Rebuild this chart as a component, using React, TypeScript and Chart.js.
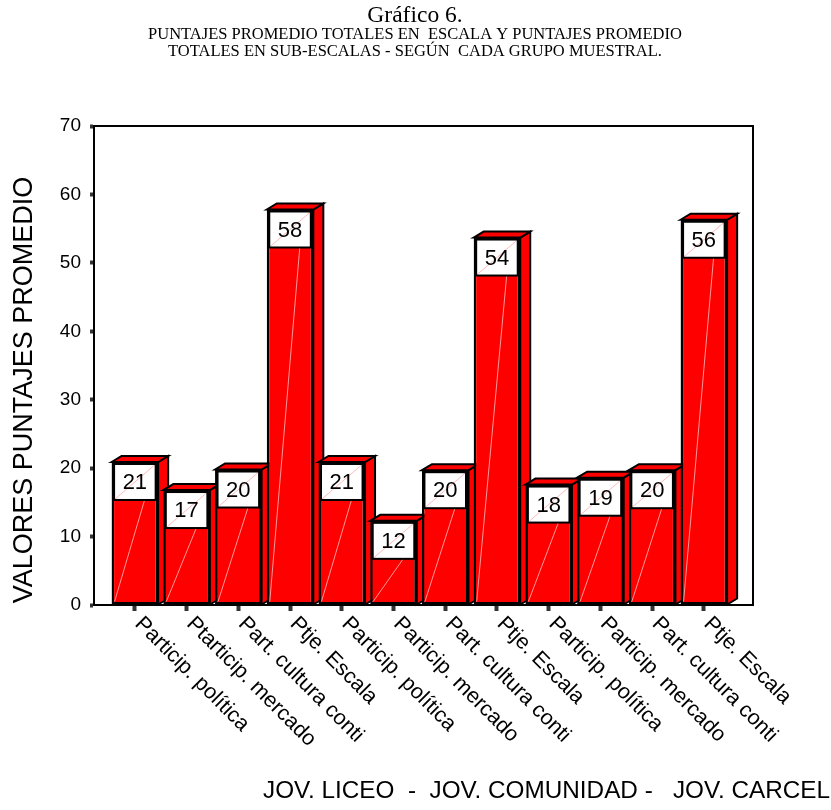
import React, { useEffect, useRef } from 'react';
import { Chart, registerables } from 'chart.js';

Chart.register(...registerables);

// ---------- data ----------
const categories = [
  'Particip. política',
  'Ptarticip. mercado',
  'Part. cultura conti',
  'Ptje. Escala',
  'Particip. política',
  'Particip. mercado',
  'Part. cultura conti',
  'Ptje. Escala',
  'Particip. política',
  'Particip. mercado',
  'Part. cultura conti',
  'Ptje. Escala',
];
const values = [20.9, 16.8, 19.8, 57.8, 20.9, 12.3, 19.7, 53.7, 17.6, 18.6, 19.7, 56.3];
const yTickValues = [0, 10, 20, 30, 40, 50, 60, 70];
const titleText = 'Gráfico 6.';
const subtitleLines = [
  'PUNTAJES PROMEDIO TOTALES EN  ESCALA Y PUNTAJES PROMEDIO',
  'TOTALES EN SUB-ESCALAS - SEGÚN  CADA GRUPO MUESTRAL.',
];
const yAxisTitle = 'VALORES PUNTAJES PROMEDIO';
const xAxisTitle = 'JOV. LICEO  -  JOV. COMUNIDAD -   JOV. CARCEL';

// ---------- styles ----------
const RED = '#ff0000';
const SANS = 'Liberation Sans, Arial, sans-serif';
const SERIF = 'Liberation Serif, Times New Roman, serif';
const DX = 10;
const DY = 6;

const bars3d = {
  id: 'bars3d',
  beforeDatasetsDraw(chart: any) {
    const ctx = chart.ctx;
    const meta = chart.getDatasetMeta(0);
    ctx.save();
    ctx.lineJoin = 'miter';
    meta.data.forEach((el: any) => {
      const { x, y, base, width } = el.getProps(['x', 'y', 'base', 'width'], true);
      const l = x - width / 2;
      const r = x + width / 2;
      // side face
      ctx.beginPath();
      ctx.moveTo(r, y);
      ctx.lineTo(r + DX, y - DY);
      ctx.lineTo(r + DX, base - DY);
      ctx.lineTo(r, base);
      ctx.closePath();
      ctx.fillStyle = RED;
      ctx.fill();
      ctx.lineWidth = 2;
      ctx.strokeStyle = '#000';
      ctx.stroke();
      // top face
      ctx.beginPath();
      ctx.moveTo(l, y);
      ctx.lineTo(l + DX, y - DY);
      ctx.lineTo(r + DX, y - DY);
      ctx.lineTo(r, y);
      ctx.closePath();
      ctx.fillStyle = RED;
      ctx.fill();
      ctx.stroke();
    });
    ctx.restore();
  },
  afterDatasetsDraw(chart: any) {
    const ctx = chart.ctx;
    const meta = chart.getDatasetMeta(0);
    const area = chart.chartArea;
    ctx.save();
    meta.data.forEach((el: any, i: number) => {
      const { x, y, base, width } = el.getProps(['x', 'y', 'base', 'width'], true);
      const l = x - width / 2;
      const bx = l + 2.5;
      const bw = width - 5;
      const by = y + 2;
      const bh = 36;
      // faint highlight line on front face
      ctx.beginPath();
      ctx.moveTo(l + 3, base - 3);
      ctx.lineTo(l + 33, by + bh);
      ctx.strokeStyle = 'rgba(255,190,190,0.8)';
      ctx.lineWidth = 1;
      ctx.stroke();
      // value box
      ctx.fillStyle = '#fff';
      ctx.fillRect(bx, by, bw, bh);
      ctx.beginPath();
      ctx.moveTo(bx + 1, by + bh - 1);
      ctx.lineTo(bx + bw - 1, by + 1);
      ctx.strokeStyle = 'rgba(255,140,140,0.6)';
      ctx.stroke();
      ctx.strokeStyle = '#000';
      ctx.lineWidth = 2;
      ctx.strokeRect(bx, by, bw, bh);
      ctx.fillStyle = '#000';
      ctx.font = `22px ${SANS}`;
      ctx.textAlign = 'center';
      ctx.textBaseline = 'middle';
      ctx.fillText(String(Math.round(values[i])), bx + bw / 2, by + bh / 2 + 1);
    });
    // frame top & right
    ctx.beginPath();
    ctx.moveTo(area.left, area.top);
    ctx.lineTo(area.right, area.top);
    ctx.lineTo(area.right, area.bottom);
    ctx.strokeStyle = '#000';
    ctx.lineWidth = 2;
    ctx.stroke();
    ctx.restore();
  },
  afterDraw(chart: any) {
    const ctx = chart.ctx;
    const xs = chart.scales.x;
    ctx.save();
    ctx.fillStyle = '#000';
    // titles
    ctx.textAlign = 'center';
    ctx.textBaseline = 'middle';
    ctx.font = `23.5px ${SERIF}`;
    ctx.fillText(titleText, 415, 16);
    ctx.font = `16.5px ${SERIF}`;
    subtitleLines.forEach((t, k) => ctx.fillText(t, 415, 35 + k * 17));
    // y axis title
    ctx.save();
    ctx.translate(25, 390);
    ctx.rotate(-Math.PI / 2);
    ctx.font = `27px ${SANS}`;
    ctx.fillText(yAxisTitle, 0, 0);
    ctx.restore();
    // x tick labels (rotated 45 deg clockwise)
    ctx.font = `21.5px ${SANS}`;
    ctx.textAlign = 'left';
    ctx.textBaseline = 'top';
    categories.forEach((c, i) => {
      const px = xs.getPixelForValue(i);
      ctx.save();
      ctx.translate(px + 11, 613);
      ctx.rotate(Math.PI / 4);
      ctx.fillText(c, 0, 0);
      ctx.restore();
    });
    // x axis title
    ctx.font = `24.3px ${SANS}`;
    ctx.textAlign = 'left';
    ctx.textBaseline = 'alphabetic';
    ctx.fillText(xAxisTitle, 263, 798);
    ctx.restore();
  },
};

export default function App() {
  const ref = useRef<HTMLCanvasElement | null>(null);
  useEffect(() => {
    if (!ref.current) return;
    const chart = new Chart(ref.current, {
      type: 'bar',
      data: {
        datasets: [
          {
            data: values.map((v, i) => ({ x: i, y: v })),
            backgroundColor: RED,
            borderColor: '#000',
            borderWidth: 2.5,
            borderSkipped: false,
            barPercentage: 0.9,
            categoryPercentage: 1,
          },
        ],
      },
      options: {
        responsive: false,
        animation: false,
        devicePixelRatio: 1,
        layout: { padding: { left: 0, top: 126, right: 78, bottom: 205 } },
        plugins: { legend: { display: false }, tooltip: { enabled: false }, title: { display: false } },
        scales: {
          x: {
            type: 'linear',
            offset: false,
            min: -0.79,
            max: 11.95,
            ticks: { display: false },
            grid: {
              offset: false,
              drawOnChartArea: false,
              drawTicks: true,
              tickLength: 6,
              tickWidth: 4,
              tickColor: '#333',
            },
            border: { color: '#000', width: 2 },
            afterBuildTicks: (s: any) => {
              s.ticks = categories.map((_, i) => ({ value: i }));
            },
            afterFit: (s: any) => {
              s.height = 0;
            },
          },
          y: {
            min: 0,
            max: 70,
            ticks: {
              stepSize: 10,
              color: '#000',
              padding: 9,
              font: { family: SANS, size: 19 },
            },
            afterBuildTicks: (s: any) => {
              s.ticks = yTickValues.map((v) => ({ value: v }));
            },
            grid: { drawOnChartArea: false, drawTicks: true, tickLength: 4, tickWidth: 4, tickColor: '#333' },
            border: { color: '#000', width: 2 },
            afterFit: (s: any) => {
              s.width = 94;
            },
          },
        },
      },
      plugins: [bars3d],
    });
    return () => chart.destroy();
  }, []);
  return (
    <div style={{ position: 'absolute', left: 0, top: 0, width: 831, height: 810, background: '#fff' }}>
      <canvas ref={ref} width={831} height={810} style={{ display: 'block' }} />
    </div>
  );
}
